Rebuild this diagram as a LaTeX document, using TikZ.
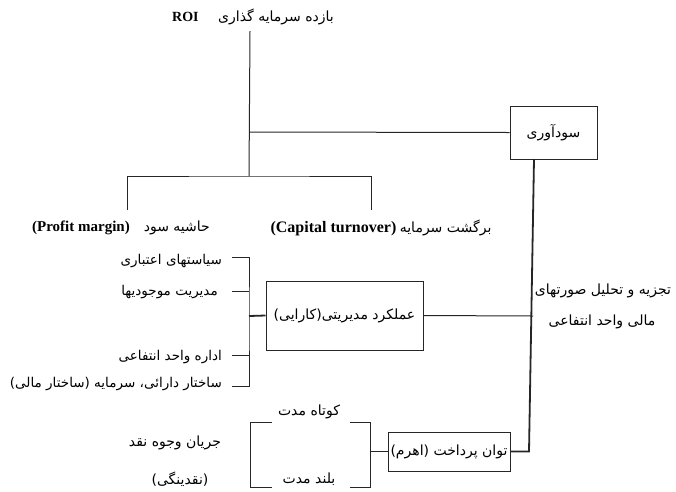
\documentclass[tikz,border=0pt]{standalone}
\usepackage{fontspec}
\setmainfont{Liberation Serif}
\newfontfamily\persianfont[Script=Arabic]{DejaVu Sans}
\TeXXeTstate=1
\newcommand{\fatxt}[1]{{\persianfont\beginR #1\endR}}
\begin{document}
\begin{tikzpicture}[x=1pt,y=-1pt,
  ln/.style={line width=1pt,draw=black!85},
  thk/.style={line width=1.8pt,draw=black!85},
  boxn/.style={draw=black!85,line width=1pt,inner sep=0pt,font=\fontsize{14}{16}\selectfont},
  lbl/.style={inner sep=0pt,font=\fontsize{14}{16}\selectfont},
  lst/.style={inner sep=0pt,anchor=east,font=\fontsize{13.5}{15}\selectfont}]
\useasboundingbox (0,0) rectangle (676,491);
% title
\node[lbl] (roi) at (253,17) {{\fontsize{14}{16}\selectfont\bfseries ROI}\hspace{1.4em}\fatxt{بازده سرمایه گذاری}};
\coordinate (t0) at (250,31);
\coordinate (j1) at (250,132);
\coordinate (j2) at (249,176);
\coordinate (pl) at (127,210);
\coordinate (cl) at (371,210);
\draw[ln] (t0) -- (j2);
\node[boxn,minimum width=87pt,minimum height=53pt] (sud) at (553.5,132.5) {\fatxt{سودآوری}};
\draw[ln] (j1) -- (sud.west);
\draw[ln] (pl) |- (j2) -| (cl);
% branch labels
\node[lbl] (pm) at (121,228) {{\fontsize{15}{17}\selectfont\bfseries (Profit margin)}\quad\fatxt{حاشیه سود}};
\node[lbl] (ct) at (381,228) {{\fontsize{16}{18}\selectfont\bfseries (Capital turnover)}\ \fatxt{برگشت سرمایه}};
% left list
\node[lst] (i1) at (222,261) {\fatxt{سیاستهای اعتباری}};
\node[lst] (i2) at (218,292) {\fatxt{مدیریت موجودیها}};
\node[lst] (i3) at (222,357) {\fatxt{اداره واحد انتفاعی}};
\node[lst] (i4) at (222,384) {\fatxt{ساختار دارائی، سرمایه (ساختار مالی)}};
\coordinate (b1) at (232,257);
\coordinate (b2) at (232,291);
\coordinate (b3) at (232,355);
\coordinate (b4) at (232,386);
\coordinate (bv) at (249,316);
\draw[ln] (b1) -| (bv) |- (b4);
\draw[ln] (b2) -- (b2 -| bv);
\draw[ln] (b3) -- (b3 -| bv);
\node[boxn,minimum width=157pt,minimum height=69pt] (amal) at (344.5,315.5) {\fatxt{عملکرد مدیریتی(کارایی)}};
\draw[thk] (bv) -- (amal.west);
% right spine
\coordinate (r1) at (534,159);
\coordinate (r2) at (529,451.5);
\coordinate (rm) at (533,316);
\draw[ln] (amal.east) -- (rm);
\node[lbl] (an1) at (603,291) {\fatxt{تجزیه و تحلیل صورتهای}};
\node[lbl] (an2) at (602,322) {\fatxt{مالی واحد انتفاعی}};
\node[boxn,minimum width=122pt,minimum height=39pt] (toan) at (449,451.5) {\fatxt{توان پرداخت (اهرم)}};
\draw[thk] (r1) -- (r2) -- (toan.east);
% bottom brackets
\coordinate (k1) at (272,422);
\coordinate (k2) at (250,487);
\coordinate (k3) at (350,422);
\coordinate (k4) at (370,487);
\coordinate (km) at (370,451.5);
\draw[ln] (k1) -| (k2) -- (k2 -| k1);
\draw[ln] (k3) -| (k4) -- (k4 -| k3);
\draw[thk] (km) -- (toan.west);
\node[lbl] (kt) at (309,412) {\fatxt{کوتاه مدت}};
\node[lbl] (bl) at (309,479) {\fatxt{بلند مدت}};
\node[lbl] (jv) at (175,443) {\fatxt{جریان وجوه نقد}};
\node[lbl] (nq) at (180,479) {\fatxt{(نقدینگی)}};
\end{tikzpicture}
\end{document}
